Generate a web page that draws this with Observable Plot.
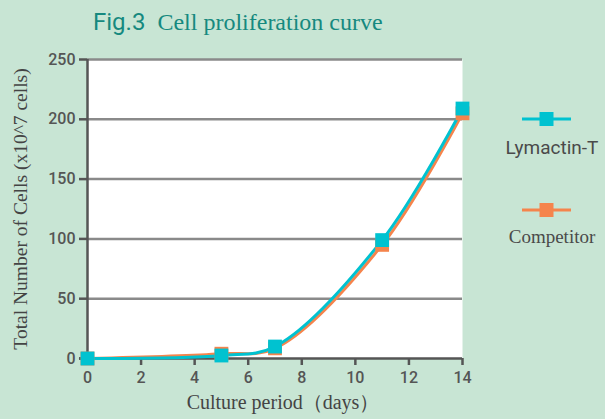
<!DOCTYPE html>
<html><head><meta charset="utf-8">
<script src="https://cdn.jsdelivr.net/npm/d3@7"></script>
<script src="https://cdn.jsdelivr.net/npm/@observablehq/plot@0.6"></script>
<style>
body{margin:0;background:#c8e5d4;}
#wrap{position:relative;width:605px;height:419px;background:#c8e5d4;overflow:hidden;}
#title{position:absolute;left:93px;top:8px;color:#16897f;white-space:nowrap;}
#title .a{font-family:Roboto,sans-serif;font-size:24px;}
#title .b{font-family:"Liberation Serif",serif;font-size:24px;margin-left:12px;}
.leg{position:absolute;}
.lab{position:absolute;color:#4a4a4a;font-size:19px;white-space:nowrap;transform:translateX(-50%);}
#chart{position:absolute;left:0;top:0;}
</style></head>
<body><div id="wrap">
<div id="chart"></div>
<div id="title"><span class="a">Fig.3</span><span class="b">Cell proliferation curve</span></div>
<div id="legend"></div>
</div>
<script>
const days = [0, 5, 7, 11, 14];
const lymactin = [0, 2.5, 10, 99, 209];
const competitor = [0, 4, 8.5, 95, 205];
const seriesNames = ["Competitor", "Lymactin-T"];
const seriesColors = ["#f5844c", "#00c2d0"];
const yTicks = [0, 50, 100, 150, 200, 250];
const xTicks = [0, 2, 4, 6, 8, 10, 12, 14];

const data = [];
days.forEach((d, i) => data.push({day: d, value: competitor[i], series: seriesNames[0]}));
days.forEach((d, i) => data.push({day: d, value: lymactin[i], series: seriesNames[1]}));

const plot = Plot.plot({
  width: 605, height: 419,
  marginLeft: 87, marginRight: 143, marginTop: 59, marginBottom: 61,
  style: {background: "transparent", fontFamily: "Roboto, sans-serif"},
  x: {domain: [0, 14]},
  y: {domain: [0, 250]},
  color: {domain: seriesNames, range: seriesColors},
  marks: [
    Plot.frame({fill: "white", stroke: null}),
    Plot.ruleY(yTicks.filter(d => d > 0), {stroke: "#8a8a8a", strokeWidth: 2.5}),
    Plot.axisY({ticks: yTicks, tickSize: 8, tickPadding: 4, fontSize: 16, fontWeight: 500, color: "#555", stroke: "#555", strokeWidth: 2.5, label: null}),
    Plot.axisX({ticks: xTicks, tickSize: 7, tickPadding: 6, fontSize: 16, fontWeight: 500, color: "#555", stroke: "#555", strokeWidth: 2.5, label: null}),
    Plot.ruleX([0], {stroke: "#555", strokeWidth: 2.5}),
    Plot.ruleY([0], {x1: -0.3, x2: 14, stroke: "#555", strokeWidth: 2.5}),
    Plot.line(data, {x: "day", y: "value", stroke: "series", z: "series", curve: "catmull-rom", strokeWidth: 3}),
    Plot.dot(data, {x: "day", y: "value", fill: "series", symbol: "square", r: 7.8, stroke: null}),
    Plot.text(["Total Number of Cells (x10^7 cells)"], {frameAnchor: "left", textAnchor: "middle", dx: -67, rotate: -90, fontSize: 19.5, fontFamily: "Liberation Serif, serif", fill: "#444"}),
    Plot.text(["Culture period（days）"], {frameAnchor: "bottom", dx: 8, dy: 50, fontSize: 20, fontFamily: "Liberation Serif, serif", fill: "#444"})
  ]
});
document.getElementById("chart").appendChild(plot);

// legend
const legend = document.getElementById("legend");
const legItems = [
  {name: seriesNames[1], color: seriesColors[1], y: 119, labY: 136, font: "Roboto, sans-serif"},
  {name: seriesNames[0], color: seriesColors[0], y: 210, labY: 226, font: "Liberation Serif, serif"}
];
legItems.forEach(it => {
  const s = d3.select(legend).append("svg").attr("class", "leg")
    .style("left", "520px").style("top", (it.y - 8) + "px").attr("width", 54).attr("height", 16);
  s.append("line").attr("x1", 2).attr("x2", 51).attr("y1", 8).attr("y2", 8).attr("stroke", it.color).attr("stroke-width", 3);
  s.append("rect").attr("x", 19.5).attr("y", 1).attr("width", 14).attr("height", 14).attr("fill", it.color);
  d3.select(legend).append("div").attr("class", "lab").style("left", "552px").style("top", it.labY + "px")
    .style("font-family", it.font).text(it.name);
});
</script>
</body></html>
